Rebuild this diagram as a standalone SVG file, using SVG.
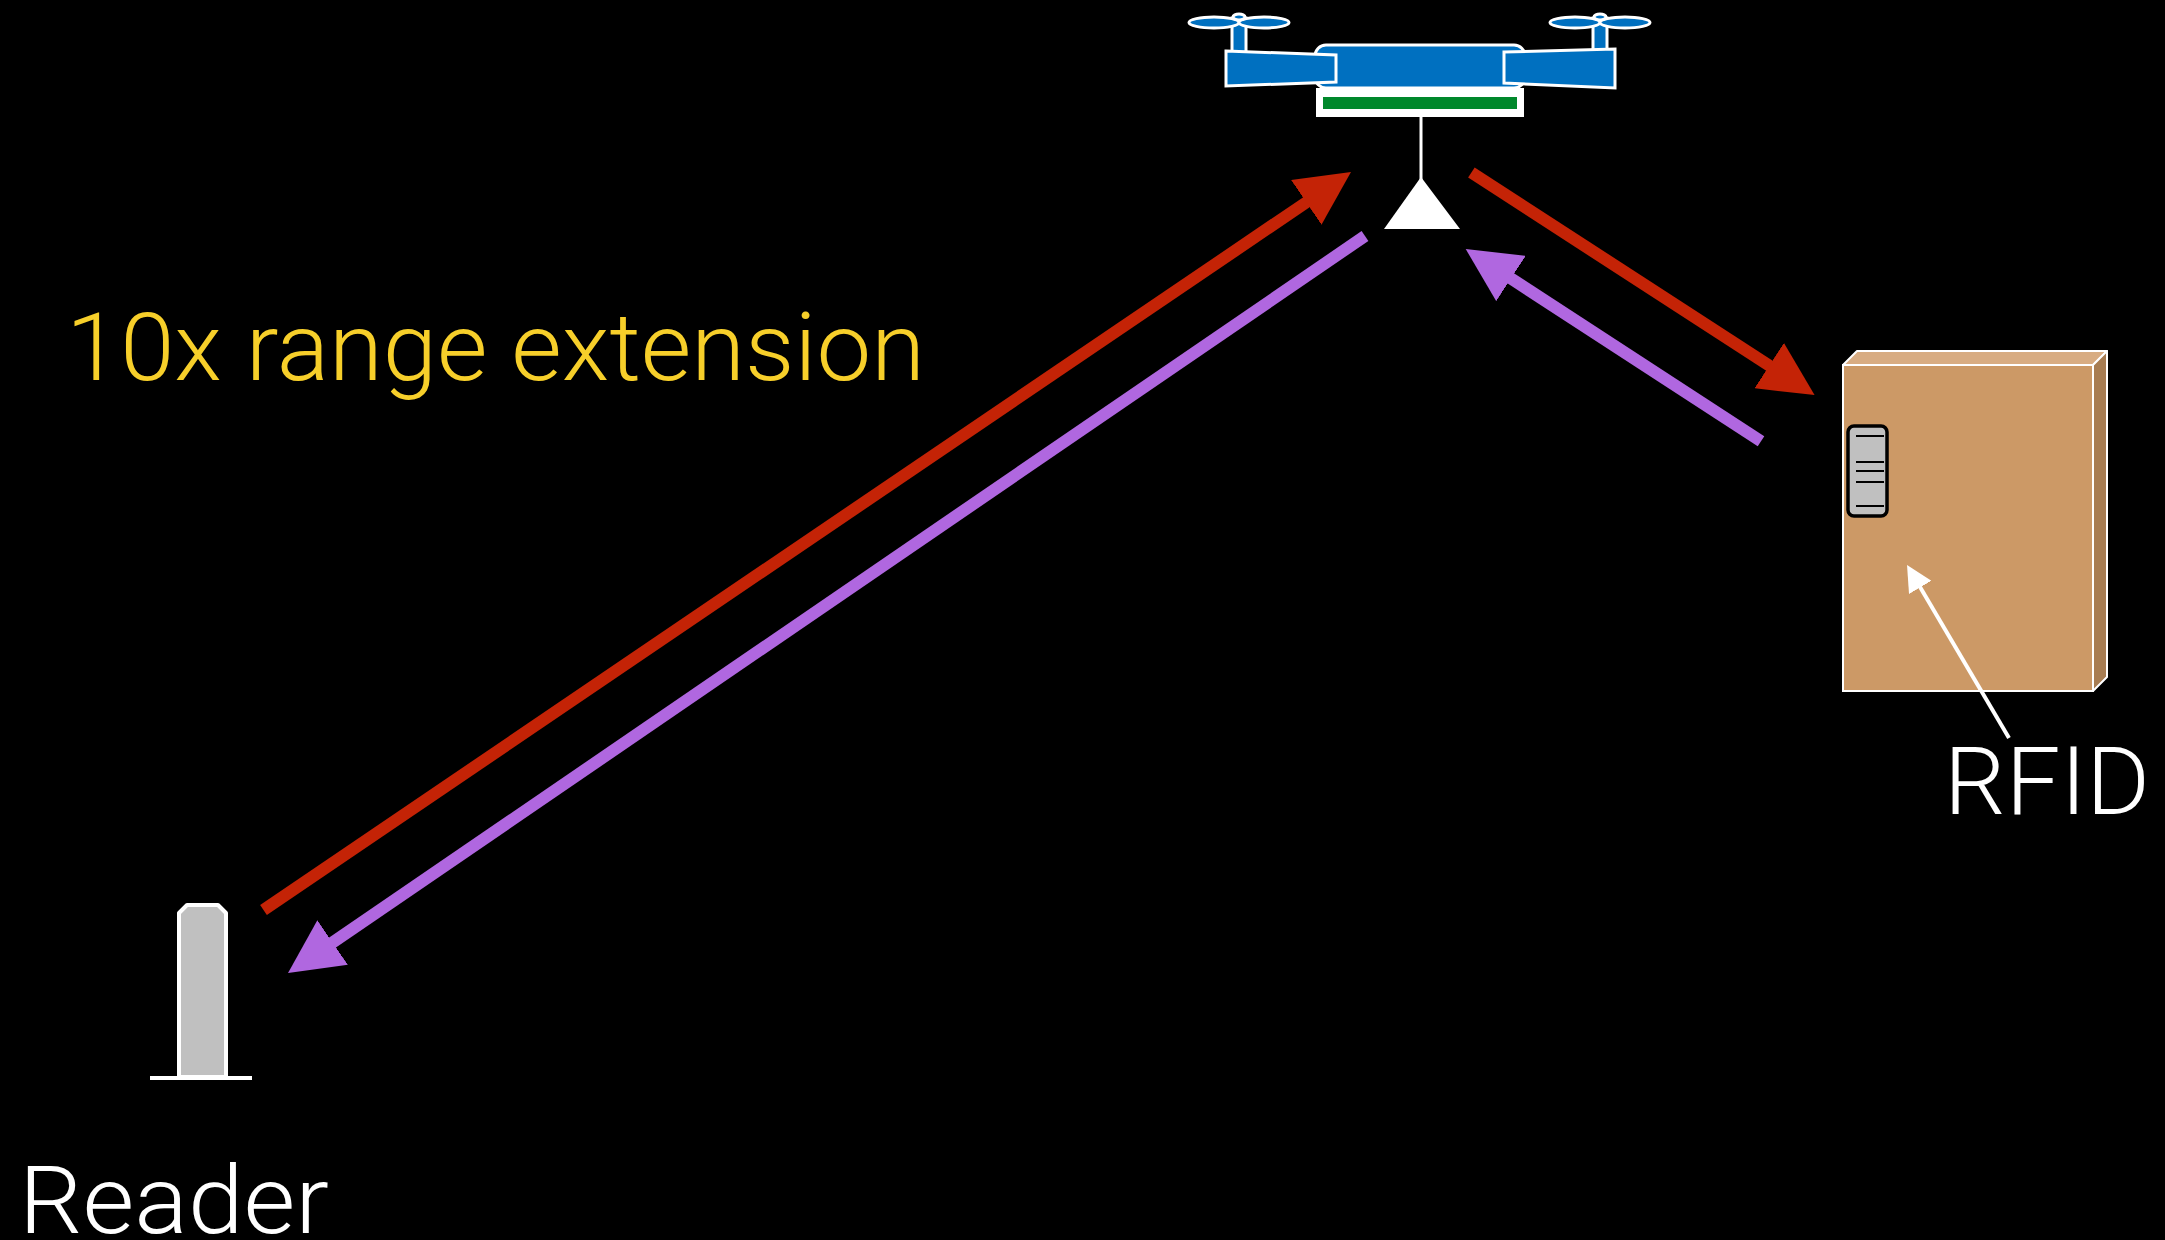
<svg xmlns="http://www.w3.org/2000/svg" width="2165" height="1240" viewBox="0 0 2165 1240">
  <style>
    .label { font-family: Roboto, "Liberation Sans", sans-serif; font-weight: 300; font-size: 94px; }
    .blue { fill: #0070C0; stroke: #FFFFFF; stroke-width: 3; }
    .red { stroke: #C42306; stroke-width: 12; fill: none; }
    .purple { stroke: #B067E0; stroke-width: 12; fill: none; }
  </style>
  <defs>
    <marker id="head-red" markerUnits="userSpaceOnUse" viewBox="0 0 54 54" markerWidth="54" markerHeight="54" refX="4" refY="27" orient="auto">
      <path d="M0,0 L54,27 L0,54 z" fill="#C42306"/>
    </marker>
    <marker id="head-purple" markerUnits="userSpaceOnUse" viewBox="0 0 54 54" markerWidth="54" markerHeight="54" refX="4" refY="27" orient="auto">
      <path d="M0,0 L54,27 L0,54 z" fill="#B067E0"/>
    </marker>
    <marker id="head-white" markerUnits="userSpaceOnUse" viewBox="0 0 26 26" markerWidth="26" markerHeight="26" refX="3" refY="13" orient="auto">
      <path d="M0,0 L26,13 L0,26 z" fill="#FFFFFF"/>
    </marker>
  </defs>

  <rect x="0" y="0" width="2165" height="1240" fill="#000000"/>

  <!-- Drone with hanging antenna -->
  <g id="drone">
    <!-- propeller masts -->
    <rect class="blue" x="1232" y="18" width="14" height="36"/>
    <rect class="blue" x="1593" y="18" width="14" height="36"/>
    <!-- propeller blades -->
    <ellipse class="blue" cx="1214" cy="22.5" rx="25" ry="5.5"/>
    <ellipse class="blue" cx="1264" cy="22.5" rx="25" ry="5.5"/>
    <ellipse class="blue" cx="1575" cy="22.5" rx="25" ry="5.5"/>
    <ellipse class="blue" cx="1625" cy="22.5" rx="25" ry="5.5"/>
    <ellipse class="blue" cx="1239" cy="17" rx="6" ry="3"/>
    <ellipse class="blue" cx="1600" cy="17" rx="6" ry="3"/>
    <!-- fuselage -->
    <rect class="blue" x="1315" y="45" width="210" height="43" rx="11"/>
    <!-- arms -->
    <polygon class="blue" points="1226,51 1336,55 1336,82 1226,86"/>
    <polygon class="blue" points="1504,52 1615,49 1615,88 1504,83"/>
    <!-- payload -->
    <rect x="1316" y="88" width="208" height="29" fill="#FFFFFF"/>
    <rect x="1323" y="97" width="194" height="12" fill="#00882B"/>
    <!-- antenna -->
    <line x1="1421" y1="117" x2="1421" y2="180" stroke="#FFFFFF" stroke-width="3"/>
    <polygon points="1421,177 1384,229 1460,229" fill="#FFFFFF"/>
  </g>

  <!-- Box carrying the tag -->
  <g id="box">
    <polygon points="1843,365 1857,351 2107,351 2093,365" fill="#D8AC82" stroke="#FFFFFF" stroke-width="2" stroke-linejoin="round"/>
    <polygon points="2093,365 2107,351 2107,677 2093,691" fill="#A87D52" stroke="#FFFFFF" stroke-width="2" stroke-linejoin="round"/>
    <rect x="1843" y="365" width="250" height="326" fill="#CC9966" stroke="#FFFFFF" stroke-width="2"/>
    <g id="tag">
      <rect x="1848" y="426" width="39" height="90" rx="6" fill="#C0C0C0" stroke="#000000" stroke-width="3.5"/>
      <g stroke="#000000" stroke-width="2">
        <line x1="1856" y1="436" x2="1884" y2="436"/>
        <line x1="1856" y1="462" x2="1884" y2="462"/>
        <line x1="1856" y1="471" x2="1884" y2="471"/>
        <line x1="1856" y1="482" x2="1884" y2="482"/>
        <line x1="1856" y1="506" x2="1884" y2="506"/>
      </g>
    </g>
  </g>

  <!-- Reader antenna -->
  <g id="reader">
    <path d="M187,905 L218,905 L226,913 L226,1077 L179,1077 L179,913 Z" fill="#C0C0C0" stroke="#FFFFFF" stroke-width="4" stroke-linejoin="round"/>
    <rect x="150" y="1076" width="102" height="4" fill="#FFFFFF"/>
  </g>

  <!-- Signal paths -->
  <g id="connectors">
    <line class="red" x1="263.5" y1="910" x2="1309.6" y2="200.1" marker-end="url(#head-red)"/>
    <line class="purple" x1="1365" y1="236" x2="329.3" y2="944.8" marker-end="url(#head-purple)"/>
    <line class="red" x1="1471.4" y1="172.5" x2="1772.6" y2="367.8" marker-end="url(#head-red)"/>
    <line class="purple" x1="1761" y1="441.3" x2="1507.6" y2="276.3" marker-end="url(#head-purple)"/>
    <line x1="2009" y1="738" x2="1918.7" y2="584.8" stroke="#FFFFFF" stroke-width="4" marker-end="url(#head-white)"/>
  </g>

  <!-- Labels -->
  <g id="labels">
    <text class="label" x="66" y="380" fill="#F7CF2A" textLength="859" lengthAdjust="spacingAndGlyphs">10x range extension</text>
    <text class="label" x="1944" y="814" fill="#FFFFFF" textLength="206" lengthAdjust="spacingAndGlyphs">RFID</text>
    <text class="label" x="19" y="1233" fill="#FFFFFF" textLength="310" lengthAdjust="spacingAndGlyphs">Reader</text>
  </g>
</svg>
